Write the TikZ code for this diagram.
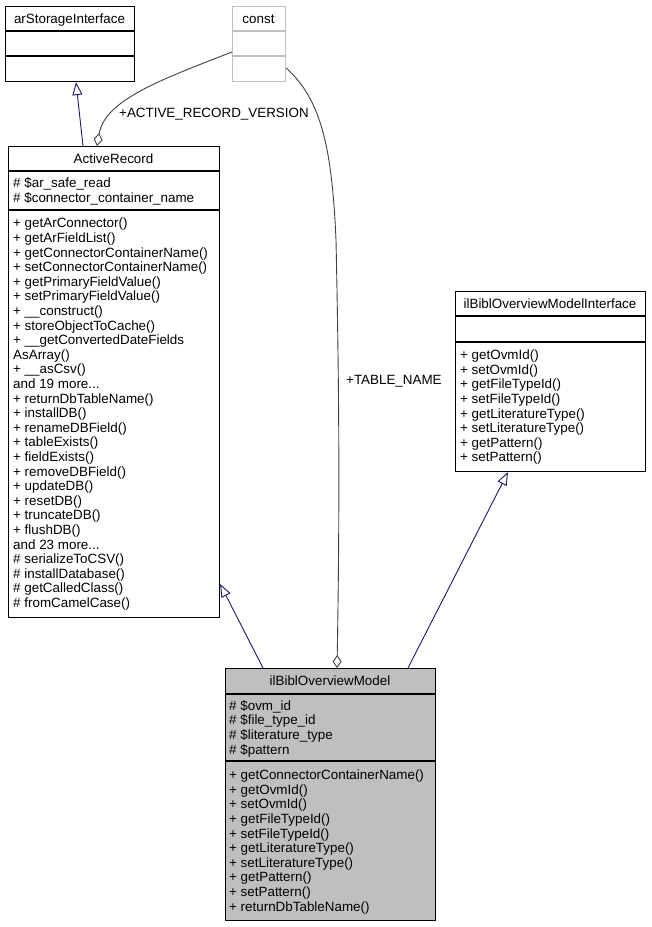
\documentclass[tikz,border=0pt]{standalone}
\usepackage{fontspec}
\setmainfont{Liberation Sans}
\usetikzlibrary{arrows.meta,calc}
\definecolor{edgeblue}{HTML}{191970}
\definecolor{edgegray}{HTML}{404040}
\definecolor{boxgray}{HTML}{BFBFBF}
\newcommand\mdots{...}
\begin{document}
\begin{tikzpicture}[x=1pt,y=-1pt,
  txt/.style={anchor=base west,inner sep=0pt,font=\fontsize{13.4}{14.6}\selectfont},
  ttl/.style={anchor=base,inner sep=0pt,font=\fontsize{13.4}{14.6}\selectfont},
  lbl/.style={anchor=base west,inner sep=0pt,font=\fontsize{13.4}{14.6}\selectfont},
  box/.style={draw=black,line width=1.1pt,rectangle,inner sep=0pt,anchor=north west},
  divider/.style={draw=black,line width=1.1pt},
  inherit/.style={draw=edgeblue,line width=0.9pt,-{Triangle[open,length=13pt,width=10pt,fill=white]}},
  member/.style={draw=edgegray,line width=0.9pt,-{Diamond[open,length=13pt,width=9pt,fill=white]}}]
\useasboundingbox (0,0) rectangle (652,927);

% arStorageInterface
\node[box,minimum width=129pt,minimum height=75pt] (asi) at (5,6) {};
\draw[divider] ([yshift=-25pt]asi.north west) -- ([yshift=-25pt]asi.north east);
\draw[divider] ([yshift=-50pt]asi.north west) -- ([yshift=-50pt]asi.north east);
\node[ttl] (asi-t) at (69.5,23.4) {arStorageInterface};

% const
\node[box,draw=boxgray,minimum width=53pt,minimum height=75pt] (const) at (232,6) {};
\draw[divider,draw=boxgray] ([yshift=-25pt]const.north west) -- ([yshift=-25pt]const.north east);
\draw[divider,draw=boxgray] ([yshift=-50pt]const.north west) -- ([yshift=-50pt]const.north east);
\node[ttl] (const-t) at (258.5,23.4) {const};

% ActiveRecord
\node[box,minimum width=211pt,minimum height=471pt] (ar) at (8,146) {};
\draw[divider] ([yshift=-25pt]ar.north west) -- ([yshift=-25pt]ar.north east);
\draw[divider] ([yshift=-64pt]ar.north west) -- ([yshift=-64pt]ar.north east);
\node[ttl] (ar-t) at (113.5,163.7) {ActiveRecord};
\foreach \t [count=\i from 0] in {{\# \$ar\_safe\_read},{\# \$connector\_container\_name}}
  \node[txt] (ar-a\i) at (13,{187.8+\i*14.6}) {\t};
\foreach \t [count=\i from 0] in {{+ getArConnector()},{+ getArFieldList()},{+ getConnectorContainerName()},
  {+ setConnectorContainerName()},{+ getPrimaryFieldValue()},{+ setPrimaryFieldValue()},
  {+ \_\_construct()},{+ storeObjectToCache()},{+ \_\_getConvertedDateFields},{AsArray()},
  {+ \_\_asCsv()},{and 19 more\mdots},{+ returnDbTableName()},{+ installDB()},{+ renameDBField()},
  {+ tableExists()},{+ fieldExists()},{+ removeDBField()},{+ updateDB()},{+ resetDB()},
  {+ truncateDB()},{+ flushDB()},{and 23 more\mdots},{\# serializeToCSV()},{\# installDatabase()},
  {\# getCalledClass()},{\# fromCamelCase()}}
  \node[txt] (ar-m\i) at (13,{227.8+\i*14.6}) {\t};

% ilBiblOverviewModelInterface
\node[box,minimum width=190pt,minimum height=180pt] (iface) at (455,291) {};
\draw[divider] ([yshift=-25pt]iface.north west) -- ([yshift=-25pt]iface.north east);
\draw[divider] ([yshift=-51pt]iface.north west) -- ([yshift=-51pt]iface.north east);
\node[ttl] (iface-t) at (550,308.2) {ilBiblOverviewModelInterface};
\foreach \t [count=\i from 0] in {{+ getOvmId()},{+ setOvmId()},{+ getFileTypeId()},{+ setFileTypeId()},
  {+ getLiteratureType()},{+ setLiteratureType()},{+ getPattern()},{+ setPattern()}}
  \node[txt] (iface-m\i) at (460,{359.6+\i*14.6}) {\t};

% ilBiblOverviewModel
\node[box,fill=boxgray,minimum width=210pt,minimum height=252pt] (model) at (225,668) {};
\draw[divider] ([yshift=-26pt]model.north west) -- ([yshift=-26pt]model.north east);
\draw[divider] ([yshift=-93pt]model.north west) -- ([yshift=-93pt]model.north east);
\node[ttl] (model-t) at (330,685.8) {ilBiblOverviewModel};
\foreach \t [count=\i from 0] in {{\# \$ovm\_id},{\# \$file\_type\_id},{\# \$literature\_type},{\# \$pattern}}
  \node[txt] (model-a\i) at (229,{710.2+\i*14.6}) {\t};
\foreach \t [count=\i from 0] in {{+ getConnectorContainerName()},{+ getOvmId()},{+ setOvmId()},
  {+ getFileTypeId()},{+ setFileTypeId()},{+ getLiteratureType()},{+ setLiteratureType()},
  {+ getPattern()},{+ setPattern()},{+ returnDbTableName()}}
  \node[txt] (model-m\i) at (229,{779.6+\i*14.6}) {\t};

% edges
\draw[inherit] ([xshift=75pt]ar.north west) -- ([xshift=71pt]asi.south west);
\draw[member] ([yshift=-46pt]const.north west) .. controls (160,80) and (105,100) .. ([xshift=89pt]ar.north west);
\node[lbl] (l1) at (119,117.9) {+ACTIVE\_RECORD\_VERSION};
\draw[member] ([yshift=-62pt]const.north east) .. controls (322,100) and (332,150) .. (336,240)
  .. controls (339,380) and (340,500) .. ([xshift=112pt]model.north west);
\node[lbl] (l2) at (346,384.9) {+TABLE\_NAME};
\draw[inherit] ([xshift=38pt]model.north west) -- ([yshift=-438pt]ar.north east);
\draw[inherit] ([xshift=183pt]model.north west) -- ([xshift=53pt]iface.south west);
\end{tikzpicture}
\end{document}
